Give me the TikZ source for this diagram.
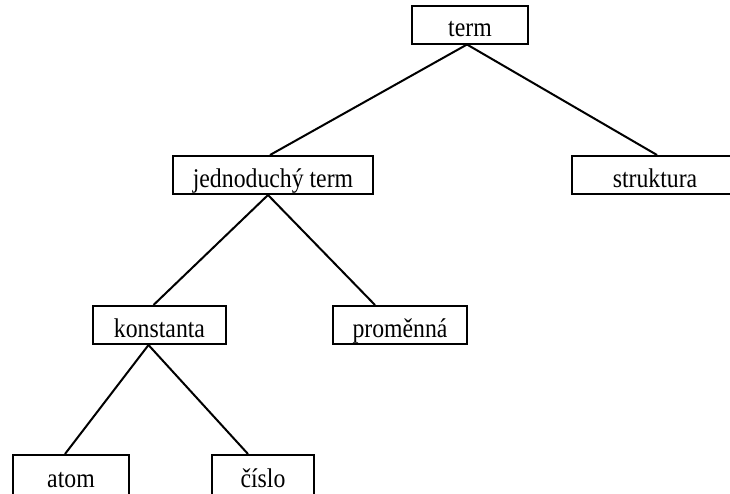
\documentclass[tikz,border=0pt]{standalone}
\usepackage{fontspec}
\setmainfont[FakeStretch=0.88]{Liberation Serif}

\begin{document}
\begin{tikzpicture}[x=1pt,y=-1pt,
    termbox/.style={draw,line width=2pt,inner sep=0pt,minimum height=38pt,
      text height=24pt,text depth=0pt,font=\fontsize{27}{30}\selectfont},
    edge/.style={line width=2pt}]
  \useasboundingbox (0,0) rectangle (730,493);

  \node[termbox,minimum width=116pt] (term) at (470,24.5) {term};
  \node[termbox,minimum width=200pt] (simple) at (273,175) {jednoduchý term};
  \node[termbox,minimum width=166pt] (struct) at (655,175) {struktura};
  \node[termbox,minimum width=133pt] (const) at (159.5,325) {konstanta};
  \node[termbox,minimum width=134pt] (var) at (400,325) {proměnná};
  \node[termbox,minimum width=116pt,minimum height=40pt] (atom) at (71,475) {atom};
  \node[termbox,minimum width=102pt,minimum height=40pt] (number) at (263,475) {číslo};

  \draw[edge] ([xshift=-3pt]term.south) -- ([xshift=-3pt]simple.north);
  \draw[edge] ([xshift=-3pt]term.south) -- ([xshift=2pt]struct.north);
  \draw[edge] ([xshift=-5pt]simple.south) -- ([xshift=-6pt]const.north);
  \draw[edge] ([xshift=-5pt]simple.south) -- ([xshift=-25pt]var.north);
  \draw[edge] ([xshift=-11pt]const.south) -- ([xshift=-6pt]atom.north);
  \draw[edge] ([xshift=-11pt]const.south) -- ([xshift=-15pt]number.north);
\end{tikzpicture}
\end{document}
